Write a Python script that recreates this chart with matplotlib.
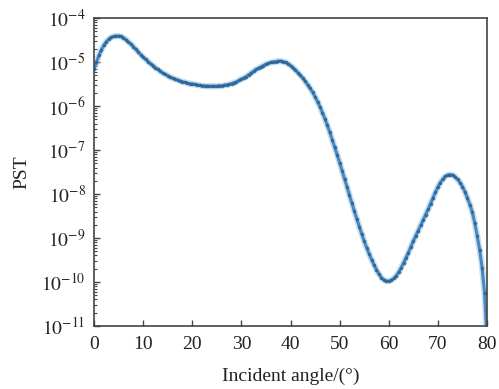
import numpy as np
import matplotlib
matplotlib.use("Agg")
import matplotlib.pyplot as plt
from matplotlib.ticker import LogLocator, FixedLocator, NullFormatter

# Incident angle (degrees), sampled every 0.5 degree
angle = np.arange(0, 80.01, 0.5)

# log10(PST), one value per angle
pst_log10 = [
    -5.15, -5.00, -4.85, -4.72, -4.62, -4.54, -4.48, -4.44, -4.42, -4.41,   # 0 - 4.5
    -4.41, -4.42, -4.45, -4.49, -4.54, -4.59, -4.65, -4.71, -4.77, -4.83,   # 5 - 9.5
    -4.89, -4.94, -4.99, -5.04, -5.08, -5.13, -5.17, -5.21, -5.25, -5.28,   # 10 - 14.5
    -5.31, -5.34, -5.37, -5.39, -5.41, -5.43, -5.45, -5.46, -5.48, -5.49,   # 15 - 19.5
    -5.50, -5.51, -5.52, -5.53, -5.54, -5.54, -5.55, -5.55, -5.55, -5.55,   # 20 - 24.5
    -5.55, -5.54, -5.54, -5.53, -5.52, -5.51, -5.49, -5.47, -5.45, -5.42,   # 25 - 29.5
    -5.39, -5.36, -5.33, -5.29, -5.25, -5.21, -5.17, -5.14, -5.11, -5.08,   # 30 - 34.5
    -5.05, -5.03, -5.01, -5.00, -4.99, -4.98, -4.98, -4.99, -5.01, -5.04,   # 35 - 39.5
    -5.08, -5.13, -5.18, -5.24, -5.30, -5.37, -5.44, -5.52, -5.60, -5.69,   # 40 - 44.5
    -5.79, -5.90, -6.02, -6.15, -6.29, -6.44, -6.60, -6.77, -6.94, -7.11,   # 45 - 49.5
    -7.29, -7.47, -7.66, -7.84, -8.03, -8.21, -8.39, -8.57, -8.74, -8.91,   # 50 - 54.5
    -9.07, -9.22, -9.36, -9.49, -9.61, -9.72, -9.82, -9.90, -9.95, -9.98,   # 55 - 59.5
    -9.98, -9.96, -9.92, -9.86, -9.78, -9.68, -9.57, -9.45, -9.33, -9.20,   # 60 - 64.5
    -9.07, -8.95, -8.83, -8.71, -8.59, -8.47, -8.35, -8.22, -8.09, -7.96,   # 65 - 69.5
    -7.84, -7.74, -7.66, -7.60, -7.57, -7.56, -7.57, -7.61, -7.67, -7.74,   # 70 - 74.5
    -7.83, -7.95, -8.09, -8.24, -8.41, -8.66, -8.95, -9.27, -9.68, -10.25,  # 75 - 79.5
    -11.30,                                                                 # 80
]
pst = 10.0 ** np.array(pst_log10)

x_ticks = [0, 10, 20, 30, 40, 50, 60, 70, 80]
y_exponents = [-11, -10, -9, -8, -7, -6, -5, -4]

plt.rcParams["font.family"] = ["Liberation Serif", "DejaVu Serif"]
plt.rcParams["mathtext.fontset"] = "stix"

fig = plt.figure(figsize=(4.99, 3.89), dpi=100)
ax = fig.add_axes([0.1884, 0.162, 0.7876, 0.7917])

# soft halo + line + small dark markers
ax.plot(angle, pst, color="#a9cbe6", lw=4.5, alpha=0.6, solid_capstyle="round")
ax.plot(angle, pst, color="#3f83bd", lw=2.2, alpha=0.95)
ax.plot(angle, pst, ls="none", marker="o", ms=2.3,
        mfc="#2b6595", mec="#2b6595", mew=0.2, alpha=0.85)

ax.set_yscale("log")
ax.set_xlim(0, 80)
ax.set_ylim(1e-11, 1e-4)

ax.xaxis.set_major_locator(FixedLocator(x_ticks))
ax.set_xticklabels([str(t) for t in x_ticks])
ax.yaxis.set_major_locator(FixedLocator([10.0 ** e for e in y_exponents]))
ax.set_yticklabels([r"$10^{%d}$" % e for e in y_exponents])
ax.yaxis.set_minor_locator(LogLocator(base=10, subs=np.arange(2, 10), numticks=20))
ax.yaxis.set_minor_formatter(NullFormatter())

ax.tick_params(axis="both", which="major", direction="in", length=4, width=1,
               color="#444444", labelsize=14, labelcolor="#222222")
ax.tick_params(axis="x", which="major", pad=7.5)
ax.tick_params(axis="y", which="major", pad=6)
ax.tick_params(axis="y", which="minor", direction="in", length=2.5, width=0.8,
               color="#444444")
ax.tick_params(axis="x", which="minor", length=0)

for s in ax.spines.values():
    s.set_color("#444444")
    s.set_linewidth(1.2)

ax.set_xlabel("Incident angle/(°)", fontsize=14, color="#222222", labelpad=10)
ax.set_ylabel("PST", fontsize=14, color="#222222", labelpad=8)

fig.savefig("out.png", dpi=100)
